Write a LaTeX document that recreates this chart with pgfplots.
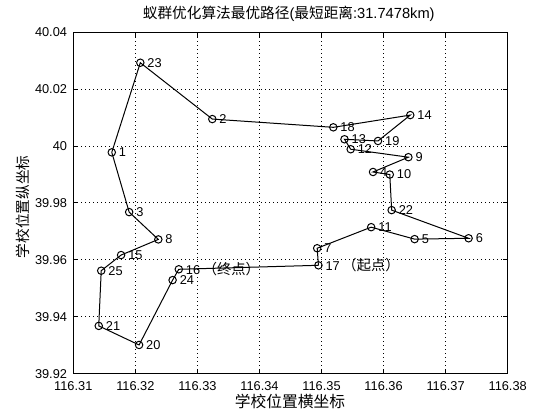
\documentclass[border=0pt]{standalone}
\usepackage{fontspec}
\setmainfont{Liberation Sans}
\newfontfamily\cjk{Noto Sans CJK SC}
\usepackage{pgfplots}
\pgfplotsset{compat=1.18}
\begin{document}
\begin{tikzpicture}
\path[use as bounding box] (-54.98pt,-34.73pt) rectangle (365.03pt,280.28pt);
\begin{axis}[
  at={(0,0)}, anchor=south west,
  scale only axis, width=325.8pt, height=256.05pt,
  xmin=116.31, xmax=116.38, ymin=39.92, ymax=40.04,
  xtick={116.31,116.32,116.33,116.34,116.35,116.36,116.37,116.38},
  xticklabels={116.31,116.32,116.33,116.34,116.35,116.36,116.37,116.38},
  ytick={39.92,39.94,39.96,39.98,40,40.02,40.04},
  yticklabels={39.92,39.94,39.96,39.98,40,40.02,40.04},
  scaled ticks=false,
  tick align=inside,
  major tick length=3.2pt,
  grid=major,
  major grid style={black, line width=0.75pt, dash pattern=on 0.75pt off 2.25pt},
  axis line style={line width=0.75pt},
  every tick/.style={black, line width=0.75pt},
  tick label style={font=\fontsize{9.6}{11}\selectfont},
  xticklabel style={anchor=center, yshift=-9.2pt},
  yticklabel style={anchor=east, inner sep=0pt, xshift=-4.5pt},
  title={{\cjk 蚁群优化算法最优路径}({\cjk 最短距离}:31.7478km)},
  title style={at={(axis description cs:0.496,1.032)}, anchor=center, inner sep=0pt, font=\fontsize{11}{13}\selectfont},
  xlabel={\cjk 学校位置横坐标},
  xlabel style={at={(axis description cs:0.499,-0.082)}, anchor=center, inner sep=0pt, font=\fontsize{11.8}{13}\selectfont},
  ylabel={\cjk 学校位置纵坐标},
  ylabel style={at={(axis description cs:-0.1151,0.489)}, anchor=center, rotate=0, inner sep=0pt, font=\fontsize{11}{13}\selectfont},
]
\addplot[black, line width=0.75pt] coordinates {
(116.3495,39.9581) (116.3493,39.9641) (116.3580,39.9715) (116.3650,39.9673)
(116.3737,39.9676) (116.3613,39.9775) (116.3610,39.9900) (116.3583,39.9909)
(116.3640,39.9961) (116.3547,39.9989) (116.3537,40.0024) (116.3591,40.0018)
(116.3643,40.0109) (116.3519,40.0066) (116.3324,40.0095) (116.3208,40.0293)
(116.3162,39.9978) (116.3190,39.9768) (116.3237,39.9672) (116.3177,39.9617)
(116.3145,39.9562) (116.3141,39.9368) (116.3206,39.9301) (116.3260,39.9529)
(116.3270,39.9567) (116.3495,39.9581)
};
\addplot[only marks, mark=o, mark size=2.8pt, black, line width=0.75pt,
  point meta=explicit symbolic, nodes near coords, nodes near coords align={horizontal},
  every node near coord/.append style={anchor=west, inner sep=0pt, xshift=5pt, font=\fontsize{9.6}{11}\selectfont, black}]
coordinates {
(116.3495,39.9581) [{17\hspace{2pt}{\cjk\fontsize{10.7}{12}\selectfont （起点）}}]
(116.3493,39.9641) [7]
(116.3580,39.9715) [11]
(116.3650,39.9673) [5]
(116.3737,39.9676) [6]
(116.3613,39.9775) [22]
(116.3610,39.9900) [10]
(116.3583,39.9909) [4]
(116.3640,39.9961) [9]
(116.3547,39.9989) [12]
(116.3537,40.0024) [13]
(116.3591,40.0018) [19]
(116.3643,40.0109) [14]
(116.3519,40.0066) [18]
(116.3324,40.0095) [2]
(116.3208,40.0293) [23]
(116.3162,39.9978) [1]
(116.3190,39.9768) [3]
(116.3237,39.9672) [8]
(116.3177,39.9617) [15]
(116.3145,39.9562) [25]
(116.3141,39.9368) [21]
(116.3206,39.9301) [20]
(116.3260,39.9529) [24]
(116.3270,39.9567) [{16\hspace{2pt}{\cjk\fontsize{10.7}{12}\selectfont （终点）}}]
};
\end{axis}
\end{tikzpicture}
\end{document}
